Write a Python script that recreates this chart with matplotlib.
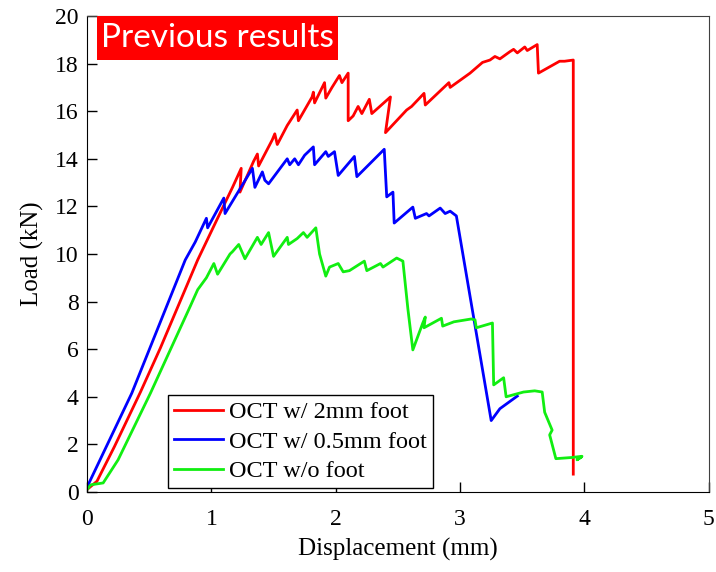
import matplotlib
matplotlib.use('Agg')
import matplotlib.pyplot as plt
from matplotlib.patches import Rectangle

# OCT w/ 2mm foot
red_x = [0, 0.08, 0.22, 0.43, 0.59, 0.89, 1.05, 1.17, 1.24, 1.23, 1.34, 1.37, 1.38,
         1.49, 1.51, 1.53, 1.61, 1.69, 1.70, 1.81, 1.82, 1.83, 1.91, 1.92, 1.97, 2.03,
         2.05, 2.10, 2.10, 2.14, 2.18, 2.21, 2.27, 2.29, 2.44, 2.40, 2.57, 2.61, 2.71,
         2.72, 2.91, 2.92, 3.08, 3.18, 3.24, 3.28, 3.32, 3.36, 3.40, 3.43, 3.46, 3.52,
         3.54, 3.62, 3.63, 3.80, 3.84, 3.91, 3.91]
red_y = [0.1, 0.45, 1.9, 4.2, 6.05, 9.75, 11.5, 12.8, 13.6, 12.6, 13.9, 14.2, 13.7,
         14.8, 15.05, 14.6, 15.4, 16.05, 15.6, 16.6, 16.8, 16.35, 17.2, 16.55, 17.0, 17.5,
         17.2, 17.6, 15.6, 15.8, 16.2, 15.9, 16.5, 15.9, 16.6, 15.1, 16.05, 16.2, 16.75,
         16.26, 17.2, 17.0, 17.6, 18.05, 18.15, 18.3, 18.2, 18.35, 18.5, 18.6, 18.45, 18.7,
         18.55, 18.8, 17.6, 18.1, 18.1, 18.15, 0.75]

# OCT w/ 0.5mm foot
blue_x = [0, 0.36, 0.79, 0.87, 0.96, 0.97, 1.10, 1.11, 1.33, 1.35, 1.41, 1.43, 1.46,
          1.61, 1.63, 1.67, 1.70, 1.75, 1.82, 1.83, 1.92, 1.94, 1.99, 2.02, 2.15, 2.17,
          2.39, 2.41, 2.46, 2.47, 2.62, 2.64, 2.73, 2.75, 2.84, 2.88, 2.92, 2.97, 3.25,
          3.32, 3.46]
blue_y = [0.2, 4.15, 9.75, 10.5, 11.5, 11.1, 12.35, 11.7, 13.6, 12.8, 13.45, 13.1, 12.95,
          14.0, 13.75, 14.0, 13.75, 14.15, 14.5, 13.75, 14.3, 14.1, 14.3, 13.3, 14.1, 13.25,
          14.4, 12.4, 12.6, 11.3, 11.97, 11.5, 11.7, 11.6, 11.93, 11.7, 11.8, 11.6, 3.0,
          3.5, 4.03]

# OCT w/o foot
green_x = [0, 0.03, 0.13, 0.25, 0.51, 0.83, 0.89, 0.96, 1.02, 1.05, 1.15, 1.17, 1.22,
           1.27, 1.37, 1.40, 1.46, 1.50, 1.61, 1.62, 1.69, 1.74, 1.77, 1.84, 1.87, 1.92,
           1.95, 2.02, 2.06, 2.11, 2.23, 2.25, 2.36, 2.38, 2.49, 2.54, 2.58, 2.62, 2.70,
           2.72, 2.71, 2.85, 2.86, 2.95, 3.09, 3.12, 3.13, 3.26, 3.27, 3.35, 3.37, 3.51,
           3.60, 3.66, 3.68, 3.74, 3.72, 3.77, 3.90, 3.98, 3.94, 3.97]
green_y = [0.1, 0.3, 0.38, 1.35, 4.15, 7.8, 8.5, 9.0, 9.6, 9.15, 10.0, 10.1, 10.4,
           9.8, 10.7, 10.4, 10.9, 9.9, 10.7, 10.4, 10.65, 10.9, 10.7, 11.1, 10.0, 9.07,
           9.45, 9.6, 9.25, 9.3, 9.7, 9.3, 9.6, 9.45, 9.83, 9.7, 7.7, 5.97, 7.1,
           7.35, 6.9, 7.3, 6.97, 7.15, 7.27, 7.23, 6.9, 7.1, 4.5, 4.8, 4.0, 4.2,
           4.25, 4.2, 3.35, 2.6, 2.4, 1.4, 1.45, 1.5, 1.35, 1.45]

labels = ['OCT w/ 2mm foot', 'OCT w/ 0.5mm foot', 'OCT w/o foot']

plt.rcParams['font.family'] = ['Liberation Serif', 'DejaVu Serif']

fig = plt.figure(figsize=(7.16, 5.72), dpi=100)
ax = fig.add_axes([0.1215, 0.1399, 0.8685, 0.8321])

ax.plot(red_x, red_y, color='#ff0000', lw=2, label=labels[0])
ax.plot(blue_x, blue_y, color='#0000ff', lw=2, label=labels[1])
ax.plot(green_x, green_y, color='#11ee11', lw=2, label=labels[2])

ax.set_xlim(0, 5)
ax.set_ylim(0, 20)
ax.set_xticks(range(0, 6))
ax.set_yticks(range(0, 21, 2))
ax.tick_params(direction='in', length=7, width=1, labelsize=17)
ax.tick_params(axis='x', pad=12)
ax.tick_params(axis='y', pad=6)
ax.set_xlabel('Displacement (mm)', fontsize=18, labelpad=6)
ax.set_ylabel('Load (kN)', fontsize=18, labelpad=8)
for s in ['top', 'right']:
    ax.spines[s].set_color('#404040')

leg = ax.legend(loc='lower left', bbox_to_anchor=(0.13, 0.008), fontsize=17.5,
                frameon=True, fancybox=False, edgecolor='black', framealpha=1,
                handlelength=2.0, handletextpad=0.25, borderpad=0.25,
                labelspacing=0.3, borderaxespad=0)
leg.get_frame().set_linewidth(1)

ax.add_patch(Rectangle((0.016, 0.908), 0.388, 0.092, transform=ax.transAxes,
                       facecolor='#ff0000', edgecolor='none', zorder=5))
ax.text(0.21, 0.953, 'Previous results', transform=ax.transAxes, color='white',
        fontsize=24, family='Lato', ha='center', va='center', zorder=6)

fig.savefig('out.png', dpi=100)
